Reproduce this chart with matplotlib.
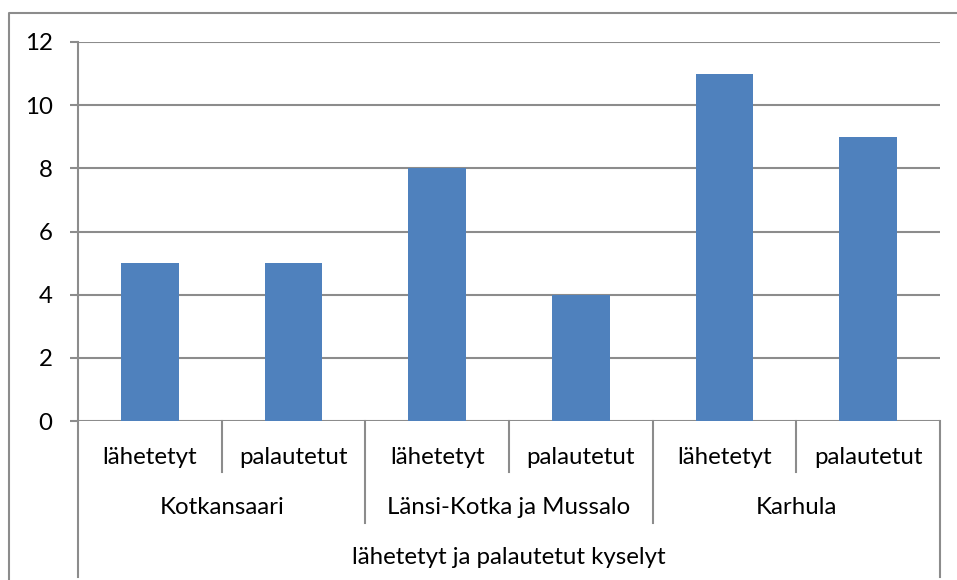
import numpy as np
import matplotlib.pyplot as plt
from matplotlib.lines import Line2D
from matplotlib.transforms import blended_transform_factory

plt.rcParams['font.family'] = ['Lato', 'DejaVu Sans']

# datos
alueet = ['Kotkansaari', 'Länsi-Kotka ja Mussalo', 'Karhula']
tyypit = ['lähetetyt', 'palautetut']
arvot = [5, 5, 8, 4, 11, 9]
otsikko = 'lähetetyt ja palautetut kyselyt'
yticks = [0, 2, 4, 6, 8, 10, 12]

harmaa = '#8c8c8c'
sininen = '#4f81bd'
fs = 17.3

W, H = 957, 580
fig = plt.figure(figsize=(W / 100, H / 100), dpi=100)
ax = fig.add_axes([78 / W, (H - 421) / H, (940 - 78) / W, (421 - 42) / H])

n = len(arvot)
x = np.arange(n)
ax.bar(x, arvot, width=0.4, color=sininen, zorder=3)
ax.set_xlim(-0.5, n - 0.5)
ax.set_ylim(0, 12)
ax.set_yticks(yticks)
ax.set_yticklabels([str(v) for v in yticks], fontsize=fs)
ax.tick_params(axis='y', length=5.8, width=1.5, color=harmaa, pad=12.5)
ax.tick_params(axis='x', length=0, labelbottom=False)
for v in yticks:
    ax.axhline(v, color=harmaa, lw=1.5, zorder=1)
for s in ['top', 'right', 'bottom']:
    ax.spines[s].set_visible(False)
ax.spines['left'].set_color(harmaa)
ax.spines['left'].set_linewidth(1.5)

# kategoria-akseli kolmella tasolla
tr = blended_transform_factory(ax.transData, ax.transAxes)
h = 421 - 42
def yf(py):
    return (421 - py) / h

taso1 = yf(472)
taso2 = yf(523)
taso3 = yf(577)

# ensimmäinen taso
for i in range(n):
    ax.text(x[i], yf(457), tyypit[i % 2], transform=tr, ha='center', va='center', fontsize=fs)
for i in range(1, n, 2):
    ax.add_line(Line2D([i - 0.5, i - 0.5], [0, taso1], transform=tr, color=harmaa, lw=1.5, clip_on=False))
# toinen taso
for j, nimi in enumerate(alueet):
    ax.text(2 * j + 0.5, yf(507), nimi, transform=tr, ha='center', va='center', fontsize=fs)
for j in range(1, len(alueet)):
    ax.add_line(Line2D([2 * j - 0.5, 2 * j - 0.5], [0, taso2], transform=tr, color=harmaa, lw=1.5, clip_on=False))
# kolmas taso
ax.text((n - 1) / 2, yf(557), otsikko, transform=tr, ha='center', va='center', fontsize=fs)
ax.add_line(Line2D([-0.5, -0.5], [0, taso3], transform=tr, color=harmaa, lw=1.5, clip_on=False))
ax.add_line(Line2D([n - 0.5, n - 0.5], [0, taso3], transform=tr, color=harmaa, lw=1.5, clip_on=False))

# kuvan reunus
fig.add_artist(Line2D([9 / W, 9 / W, 1.0], [0.0, (H - 13) / H, (H - 13) / H],
                      transform=fig.transFigure, color=harmaa, lw=1.5))

fig.savefig('out.png', dpi=100)
